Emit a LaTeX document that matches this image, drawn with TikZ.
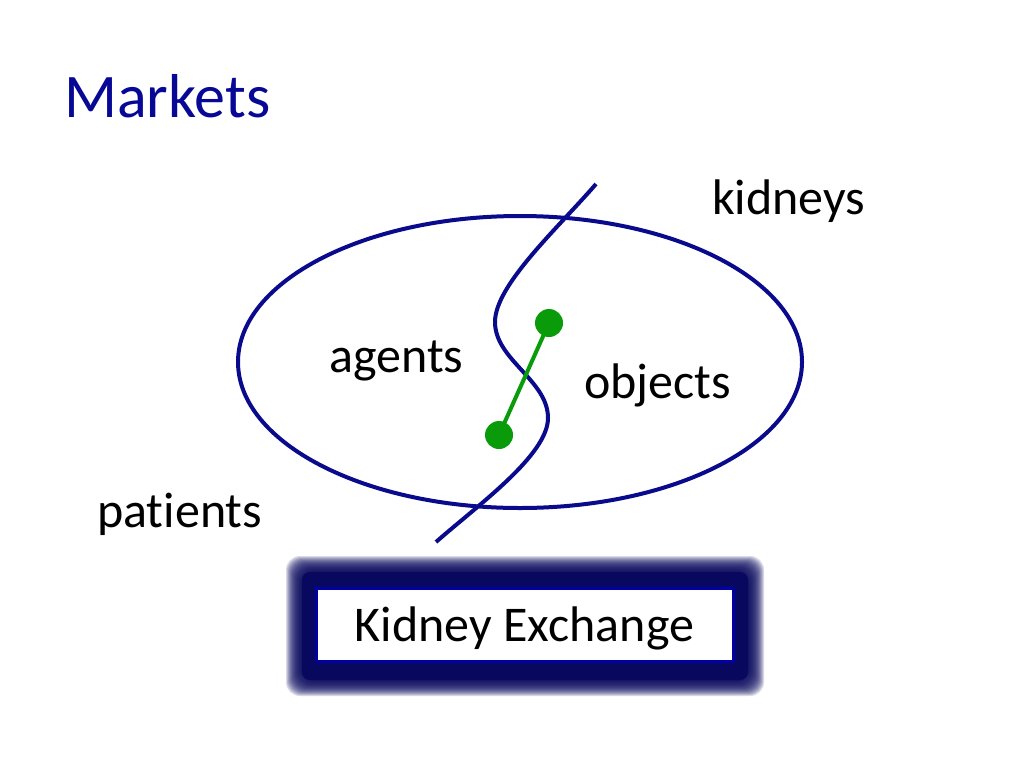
\documentclass[tikz,border=0pt]{standalone}
\usepackage{fontspec}
\setmainfont{Carlito}[Ligatures={NoCommon}]
\usetikzlibrary{shapes.geometric}
\definecolor{navy}{RGB}{10,10,140}
\definecolor{title}{RGB}{8,8,150}
\definecolor{dotgreen}{RGB}{10,155,10}
\definecolor{glow}{RGB}{8,8,95}
\definecolor{boxblue}{RGB}{0,0,165}
\tikzset{
  lbl/.style={anchor=base west, inner sep=0pt, font=\fontsize{50}{60}\selectfont},
  dot/.style={circle, fill=dotgreen, inner sep=0pt, minimum size=28pt},
  curveline/.style={draw=navy, line width=4pt},
}
\begin{document}
\begin{tikzpicture}[x=1pt,y=-1pt]
\useasboundingbox (0,0) rectangle (1024,768);
\fill[white] (0,0) rectangle (1024,768);
% title
\node[anchor=base west, inner sep=0pt, text=title, font=\fontsize{62}{70}\selectfont] (title) at (64,117) {Markets};
% ellipse
\node[curveline, ellipse, inner sep=0pt, minimum width=564pt, minimum height=292pt] (market) at (520,362) {};
% curve
\coordinate (ctop) at (596,184);
\coordinate (cleft) at (495,322);
\coordinate (cright) at (548,418);
\coordinate (cbot) at (436,542);
\draw[curveline, line cap=butt] (ctop) .. controls (558,228) and (495,285) .. (cleft)
  .. controls (495,360) and (548,380) .. (cright)
  .. controls (548,455) and (478,505) .. (cbot);
% green dots
\node[dot] (d1) at (549,323) {};
\node[dot] (d2) at (499,435) {};
\draw[dotgreen, line width=4pt] (d1.center) -- (d2.center);
% labels
\node[lbl] (kid) at (712,214) {kidneys};
\node[lbl] (agents) at (329,372) {agents};
\node[lbl] (objects) at (584,398) {objects};
\node[lbl] (patients) at (97,527) {patients};
% glow box
\foreach \k in {16,15,...,1}{
  \fill[glow, opacity=0.15, rounded corners=14pt] (302-\k,572-\k) rectangle (748+\k,680+\k);
}
\fill[glow, rounded corners=8pt] (302,572) rectangle (748,680);
\node[draw=boxblue, line width=3pt, fill=white, minimum width=417pt, minimum height=73pt, inner sep=0pt] (kx) at (524.5,624.5) {};
\node[anchor=base, inner sep=0pt, font=\fontsize{50}{60}\selectfont] (kxt) at (524.5,641) {Kidney Exchange};
\end{tikzpicture}
\end{document}
